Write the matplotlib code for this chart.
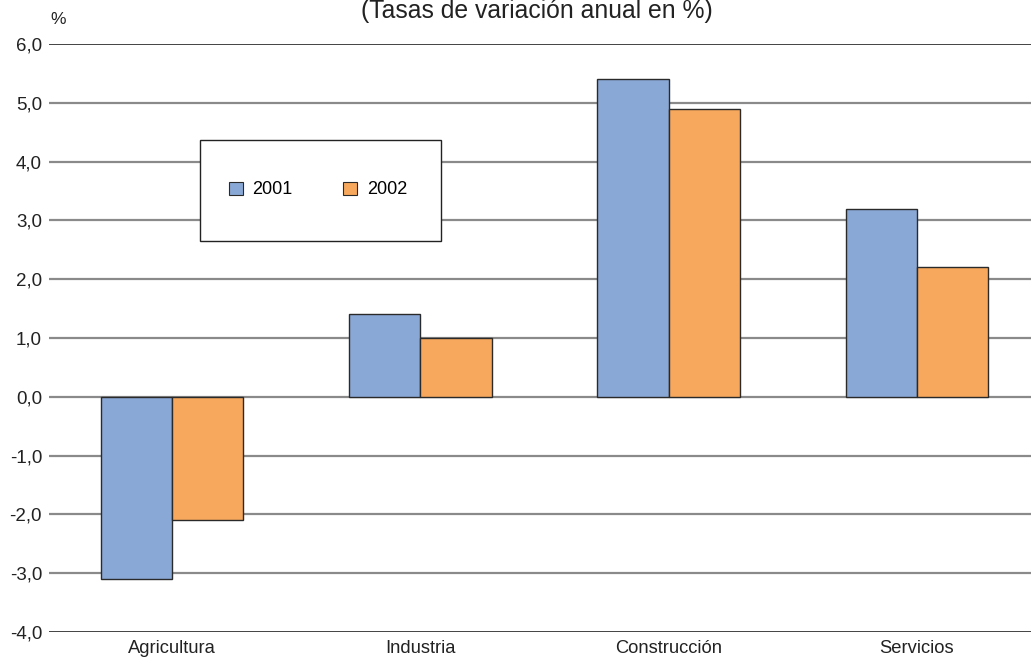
import matplotlib
matplotlib.use("Agg")
import matplotlib.pyplot as plt
from matplotlib.patches import Rectangle, Patch
import numpy as np

categories = ["Agricultura", "Industria", "Construcción", "Servicios"]
series_names = ["2001", "2002"]
values_2001 = [-3.1, 1.4, 5.4, 3.2]
values_2002 = [-2.1, 1.0, 4.9, 2.2]
yticks = [-4.0, -3.0, -2.0, -1.0, 0.0, 1.0, 2.0, 3.0, 4.0, 5.0, 6.0]
title = "(Tasas de variación anual en %)"

plt.rcParams['font.family'] = ['Liberation Sans', 'DejaVu Sans']

W, H = 1031, 663
fig = plt.figure(figsize=(W / 100, H / 100), dpi=100)
ax = fig.add_axes([49 / W, 1 - 632 / H, 1 - 49 / W, (632 - 44) / H])

blue = "#8AA8D6"
orange = "#F8A85C"
edge = "#2a2a2a"

x = np.arange(len(categories))
bw = 0.287
ax.bar(x - bw / 2, values_2001, width=bw, color=blue, edgecolor=edge, linewidth=1.0, zorder=3)
ax.bar(x + bw / 2, values_2002, width=bw, color=orange, edgecolor=edge, linewidth=1.0, zorder=3)

for t in yticks:
    edge_line = t in (yticks[0], yticks[-1])
    c = "#222222" if edge_line else "#8a8a8a"
    lw = 1.2 if edge_line else 1.6
    ax.axhline(t, color=c, linewidth=lw, zorder=1)

ax.set_xlim(-0.496, 3.46)
ax.set_ylim(-4.0, 6.0)
ax.set_yticks(yticks)
ax.set_yticklabels([f"{t:.1f}".replace(".", ",") for t in yticks], fontsize=13.5, color="#222222")
ax.set_xticks(x)
ax.set_xticklabels(categories, fontsize=13.2, color="#222222")
ax.tick_params(axis="both", length=0)
ax.tick_params(axis="y", pad=5)
ax.tick_params(axis="x", pad=6)
for s in ax.spines.values():
    s.set_visible(False)
ax.patch.set_alpha(0)

# legend box
rect = Rectangle((200 / W, 1 - 241 / H), 241 / W, 101 / H, transform=fig.transFigure,
                 facecolor="white", edgecolor="#222222", linewidth=1.0, zorder=5)
fig.patches.append(rect)
handles = [Patch(facecolor=blue, edgecolor=edge, linewidth=0.8),
           Patch(facecolor=orange, edgecolor=edge, linewidth=0.8)]
leg = fig.legend(handles, series_names, loc="center", bbox_to_anchor=(318 / W, 1 - 190 / H),
                 ncol=2, frameon=False, fontsize=13, handlelength=0.75, handleheight=0.75,
                 columnspacing=2.8, handletextpad=0.55)
leg.set_zorder(6)

fig.text(50 / W, 1 - 20 / H, "%", fontsize=12.5, ha="left", va="center", color="#222222")
fig.text(537 / W, 1 - 11 / H, title, fontsize=17.8, ha="center", va="center", color="#222222")

fig.savefig("out.png", dpi=100)
